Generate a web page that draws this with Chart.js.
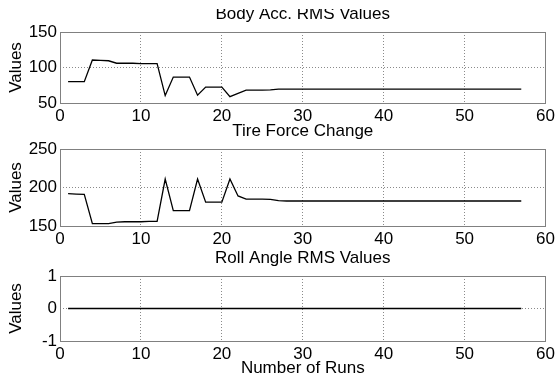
<!DOCTYPE html>
<html>
<head>
<meta charset="utf-8">
<script src="https://cdn.jsdelivr.net/npm/chart.js@4.4.1/dist/chart.umd.min.js"></script>
<style>
  html, body { margin: 0; padding: 0; background: #fff; }
  body { width: 558px; height: 384px; position: relative; overflow: hidden; }
  canvas { position: absolute; left: 0; }
</style>
</head>
<body>
<canvas id="bodyAccCanvas" width="558" height="115" style="top:9px"></canvas>
<canvas id="tireCanvas" width="558" height="122" style="top:124px"></canvas>
<canvas id="rollCanvas" width="558" height="138" style="top:246px"></canvas>
<script>
const runs = [
  1, 2, 3, 4, 5, 6, 7, 8, 9, 10, 11, 12, 13, 14, 15, 16, 17, 18, 19, 20,
  21, 22, 23, 24, 25, 26, 27, 28, 29, 30, 31, 32, 33, 34, 35, 36, 37, 38, 39, 40,
  41, 42, 43, 44, 45, 46, 47, 48, 49, 50, 51, 52, 53, 54, 55, 56, 57
];

const bodyAccRms = [
  80, 80, 80, 110.5, 110, 109.5, 106, 106, 106, 105.5,
  105.5, 105.5, 60.5, 86.5, 86.5, 86.5, 61, 72.5, 72.5, 72.5,
  59, 63.5, 68, 68, 68, 68.5, 69.5, 69.5, 69.5, 69.5,
  69.5, 69.5, 69.5, 69.5, 69.5, 69.5, 69.5, 69.5, 69.5, 69.5,
  69.5, 69.5, 69.5, 69.5, 69.5, 69.5, 69.5, 69.5, 69.5, 69.5,
  69.5, 69.5, 69.5, 69.5, 69.5, 69.5, 69.5
];

const tireForceChange = [
  192, 191.5, 191, 153, 153, 153, 155, 155.5, 155.5, 155.5,
  156, 156, 211, 170, 170, 170, 211, 181, 181, 181,
  211, 189, 185, 185, 185, 184.5, 183, 182.5, 182.5, 182.5,
  182.5, 182.5, 182.5, 182.5, 182.5, 182.5, 182.5, 182.5, 182.5, 182.5,
  182.5, 182.5, 182.5, 182.5, 182.5, 182.5, 182.5, 182.5, 182.5, 182.5,
  182.5, 182.5, 182.5, 182.5, 182.5, 182.5, 182.5
];

const rollAngleRms = [
  0, 0, 0, 0, 0, 0, 0, 0, 0, 0,
  0, 0, 0, 0, 0, 0, 0, 0, 0, 0,
  0, 0, 0, 0, 0, 0, 0, 0, 0, 0,
  0, 0, 0, 0, 0, 0, 0, 0, 0, 0,
  0, 0, 0, 0, 0, 0, 0, 0, 0, 0,
  0, 0, 0, 0, 0, 0, 0
];

const xTicks = [0, 10, 20, 30, 40, 50, 60];
const bodyAccTicks = [50, 100, 150];
const tireTicks = [150, 200, 250];
const rollTicks = [-1, 0, 1];

const FONT = '"Liberation Sans", Arial, Helvetica, sans-serif';
Chart.defaults.font.family = FONT;
Chart.defaults.font.size = 17;
Chart.defaults.color = '#000';

// subplot title above the axes box, plus the grey frame around it
const axesFrame = {
  id: 'axesFrame',
  afterDraw(chart, args, opts) {
    const { ctx, chartArea: a } = chart;
    ctx.save();
    ctx.strokeStyle = '#808080';
    ctx.lineWidth = 1;
    ctx.strokeRect(Math.round(a.left) + 0.5, Math.round(a.top) + 0.5,
      Math.round(a.right - a.left) - 1, Math.round(a.bottom - a.top));
    if (opts.title) {
      ctx.font = '17px ' + FONT;
      ctx.fillStyle = '#000';
      ctx.textAlign = 'center';
      ctx.textBaseline = 'alphabetic';
      ctx.fillText(opts.title, (a.left + a.right) / 2, a.top - opts.gap);
    }
    ctx.restore();
  }
};

function makePanel(canvasId, p) {
  const points = runs.map((r, i) => ({ x: r, y: p.values[i] }));
  return new Chart(document.getElementById(canvasId), {
    type: 'line',
    data: {
      datasets: [{
        data: points,
        borderColor: '#000',
        borderWidth: 1.3,
        pointRadius: 0,
        tension: 0,
        fill: false
      }]
    },
    plugins: [axesFrame],
    options: {
      responsive: false,
      animation: false,
      events: [],
      layout: { padding: { top: p.top, right: 10, left: 0, bottom: 0 } },
      plugins: {
        legend: { display: false },
        tooltip: { enabled: false },
        axesFrame: { title: p.title, gap: 13 }
      },
      scales: {
        x: {
          type: 'linear',
          min: 0,
          max: 60,
          afterBuildTicks: s => { s.ticks = xTicks.map(v => ({ value: v })); },
          ticks: { padding: 3, maxRotation: 0, autoSkip: false },
          grid: { color: '#8a8a8a', lineWidth: 1, drawTicks: false },
          border: { display: false, dash: [1, 2] },
          title: p.xTitle ? { display: true, text: p.xTitle, padding: { top: 0, bottom: 5 } } : { display: false },
          afterFit: s => { s.height = p.xHeight; }
        },
        y: {
          min: p.ticks[0],
          max: p.ticks[p.ticks.length - 1],
          afterBuildTicks: s => { s.ticks = p.ticks.map(v => ({ value: v })); },
          ticks: { padding: 3 },
          grid: { color: '#8a8a8a', lineWidth: 1, drawTicks: false },
          border: { display: false, dash: [1, 2] },
          title: { display: true, text: 'Values', padding: { top: 6, bottom: 0 } },
          afterFit: s => { s.width = 60; }
        }
      }
    }
  });
}

makePanel('bodyAccCanvas', {
  values: bodyAccRms, ticks: bodyAccTicks, title: 'Body Acc. RMS Values', top: 23, xHeight: 21
});
makePanel('tireCanvas', {
  values: tireForceChange, ticks: tireTicks, title: 'Tire Force Change', top: 25, xHeight: 20
});
makePanel('rollCanvas', {
  values: rollAngleRms, ticks: rollTicks, title: 'Roll Angle RMS Values', top: 30, xHeight: 43,
  xTitle: 'Number of Runs'
});
</script>
</body>
</html>
